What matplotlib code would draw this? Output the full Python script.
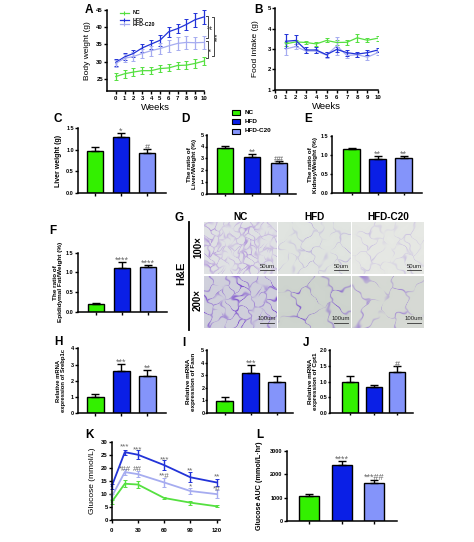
import numpy as np
import matplotlib
matplotlib.use("Agg")
import matplotlib.pyplot as plt

plt.rcParams['font.family'] = ['Liberation Sans', 'DejaVu Sans']
plt.rcParams['font.weight'] = 'bold'
W, H = 474, 542
GREEN, BLUE, LIGHT = '#33f000', '#0a1fe6', '#8494fa'
LINE_GREEN, LINE_BLUE, LINE_LIGHT = '#55e040', '#2233d8', '#a6acf0'
STAR = '#666666'

weeks = np.arange(0, 11)
a_nc = [25.7, 26.5, 27.0, 27.4, 27.4, 28.0, 28.2, 28.9, 29.0, 29.5, 30.2]
a_nc_e = [0.9, 1.1, 1.1, 1.1, 1.1, 1.1, 1.0, 1.0, 1.2, 1.2, 1.3]
a_hfd = [29.8, 31.4, 32.4, 34.0, 35.1, 36.2, 38.7, 39.6, 40.8, 42.2, 43.0]
a_hfd_e = [1.1, 1.0, 1.0, 1.1, 1.3, 1.5, 1.5, 1.4, 1.7, 2.0, 2.0]
a_c20 = [29.5, 31.0, 31.5, 32.4, 33.2, 33.8, 34.6, 35.3, 35.6, 35.5, 35.6]
a_c20_e = [1.0, 1.1, 1.2, 1.3, 1.5, 1.6, 1.8, 1.8, 1.8, 1.8, 1.8]

b_weeks = np.arange(1, 11)
b_nc = [3.25, 3.35, 3.32, 3.25, 3.42, 3.32, 3.33, 3.55, 3.43, 3.53]
b_nc_e = [0.1, 0.1, 0.08, 0.08, 0.1, 0.12, 0.12, 0.2, 0.1, 0.12]
b_hfd = [3.38, 3.42, 2.95, 2.95, 2.72, 2.98, 2.82, 2.75, 2.82, 2.95]
b_hfd_e = [0.35, 0.25, 0.15, 0.15, 0.12, 0.12, 0.15, 0.12, 0.12, 0.1]
b_c20 = [3.0, 3.12, 2.9, 2.9, 2.7, 3.15, 2.68, 2.72, 2.6, 2.82]
b_c20_e = [0.3, 0.12, 0.1, 0.1, 0.15, 0.45, 0.1, 0.1, 0.12, 0.1]

k_time = [0, 15, 30, 60, 90, 120]
k_nc = [7.0, 14.0, 13.7, 8.5, 6.7, 5.3]
k_nc_e = [0.8, 1.3, 1.3, 0.4, 0.8, 0.3]
k_hfd = [13.0, 26.2, 25.2, 21.2, 16.5, 14.5]
k_hfd_e = [1.0, 1.0, 1.7, 2.0, 2.0, 1.3]
k_c20 = [9.0, 18.5, 17.7, 14.5, 11.2, 10.0]
k_c20_e = [1.0, 1.0, 1.2, 1.8, 1.2, 1.4]

groups = ['NC', 'HFD', 'HFD-C20']
c_vals, c_errs = [0.97, 1.28, 0.93], [0.08, 0.10, 0.09]
d_vals, d_errs = [3.85, 3.15, 2.6], [0.2, 0.2, 0.15]
e_vals, e_errs = [1.16, 0.91, 0.92], [0.03, 0.07, 0.05]
f_vals, f_errs = [0.2, 1.11, 1.13], [0.03, 0.15, 0.05]
h_vals, h_errs = [1.0, 2.6, 2.32], [0.2, 0.42, 0.35]
i_vals, i_errs = [0.95, 3.2, 2.5], [0.3, 0.6, 0.4]
j_vals, j_errs = [1.0, 0.82, 1.32], [0.18, 0.08, 0.18]
l_vals, l_errs = [1070, 2390, 1650], [90, 170, 130]

fig = plt.figure(figsize=(W / 100, H / 100), dpi=100)
BG = fig.add_axes([0, 0, 1, 1])
BG.set_xlim(0, W)
BG.set_ylim(H, 0)
BG.axis('off')


def make_ax(left, right, top, bottom, tl=2.4, size=4.3, xpad=1.2):
    ax = fig.add_axes([left / W, 1 - bottom / H, (right - left) / W, (bottom - top) / H])
    ax.patch.set_alpha(0)
    for s in ('top', 'right'):
        ax.spines[s].set_visible(False)
    for s in ('left', 'bottom'):
        ax.spines[s].set_linewidth(1.1)
    ax.tick_params(axis='y', length=tl, width=1.0, labelsize=size, pad=0.5)
    ax.tick_params(axis='x', length=tl, width=1.0, labelsize=size, pad=xpad)
    return ax


def label(x, y, s):
    BG.text(x, y, s, fontsize=8.5, ha='left', va='center')


def barpanel(box, vals, errs, ylim, yticks, ylab, centers, w, stars, fs=4.6, labx=None, ticklabels=None, tl=2.4):
    left, right, top, bottom = box
    ax = make_ax(left, right, top, bottom, tl=tl, size=4.0)
    sp = centers[1] - centers[0]
    ax.set_xlim((left - centers[0]) / sp, (right - centers[0]) / sp)
    ax.set_ylim(*ylim)
    xs = np.arange(3)
    ax.bar(xs, vals, width=w / sp, color=[GREEN, BLUE, LIGHT], edgecolor='black', linewidth=1.0)
    ax.errorbar(xs, vals, yerr=[np.zeros(3), errs], fmt='none', ecolor='black', elinewidth=1.0, capsize=3.2, capthick=1.0)
    ax.set_xticks(xs)
    ax.set_xticklabels([])
    ax.set_yticks(yticks)
    if ticklabels:
        ax.set_yticklabels(ticklabels)
    ax.set_ylabel(ylab, fontsize=fs, labelpad=2, linespacing=1.1, fontweight='bold')
    if labx is not None:
        ax.yaxis.set_label_coords(labx, 0.5)
    for x, v, e, s in zip(xs, vals, errs, stars):
        if s:
            ax.annotate(s, (x, v + e), xytext=(0, 1.2), textcoords='offset points', fontsize=6.5, ha='center',
                        va='center', color=STAR, fontweight='normal', annotation_clip=False)
    return ax


# A
ax = make_ax(107, 204, 10, 91)
ax.set_xlim(-1, 10)
ax.set_ylim(21.5, 45)
for y, e, c in ((a_nc, a_nc_e, LINE_GREEN), (a_hfd, a_hfd_e, LINE_BLUE), (a_c20, a_c20_e, LINE_LIGHT)):
    ax.errorbar(weeks, y, yerr=e, color=c, lw=0.9, elinewidth=0.9, capsize=1.2, capthick=0.7, clip_on=False)
ax.set_xticks(weeks)
ax.set_yticks([25, 30, 35, 40, 45])
ax.set_xlabel('Weeks', fontsize=6.8, labelpad=1.5)
ax.set_ylabel('Body weight (g)', fontsize=6.0, labelpad=3.5)
for x0, y0, y1, s, xt, rot in ((10.42, 43.2, 36.9, '#', 10.85, 90), (10.42, 36.0, 31.2, '*', 10.85, 90),
                               (11.1, 43.0, 31.6, '***', 11.55, 90)):
    ax.plot([x0 - 0.2, x0, x0, x0 - 0.2], [y0, y0, y1, y1], color='#444444', lw=0.7, clip_on=False)
    ax.text(xt, (y0 + y1) / 2, s, rotation=rot, fontsize=5, ha='center', va='center', clip_on=False, color='#444444')
for yp, c, s in ((12.7, LINE_GREEN, 'NC'), (20, LINE_BLUE, 'HFD'), (24.3, LINE_LIGHT, 'HFD-C20')):
    BG.plot([120, 129], [yp, yp], color=c, lw=0.9)
    BG.plot([124.5], [yp], marker='|', ms=3, color=c, mew=0.8)
    BG.text(133, yp, s, fontsize=3.8, va='center', ha='left')
label(85, 10, 'A')

# B
ax = make_ax(275.3, 377.7, 8.3, 89.7)
ax.set_xlim(0, 10)
ax.set_ylim(1, 5)
for y, e, c in ((b_nc, b_nc_e, LINE_GREEN), (b_c20, b_c20_e, LINE_LIGHT), (b_hfd, b_hfd_e, LINE_BLUE)):
    ax.errorbar(b_weeks, y, yerr=e, color=c, lw=0.9, elinewidth=0.9, capsize=1.2, capthick=0.7)
ax.set_xticks(np.arange(0, 11))
ax.set_yticks([1, 2, 3, 4, 5])
ax.set_xlabel('Weeks', fontsize=6.8, labelpad=1.5)
ax.set_ylabel('Food intake (g)', fontsize=6.0, labelpad=6.5)
label(254, 10, 'B')

# Bar panels
one_five = ['0.0', '0.5', '1.0', '1.5']
barpanel((78, 166, 127.7, 193.3), c_vals, c_errs, (0, 1.5), [0, 0.5, 1.0, 1.5], 'Liver weight (g)', (95, 121, 147), 16,
         ['', '*', '#'], fs=5, labx=-0.18, ticklabels=one_five)
label(54, 119, 'C')
barpanel((207, 296, 134.7, 193.7), d_vals, d_errs, (0, 5), [0, 1, 2, 3, 4, 5], 'The ratio of\nLiver/Weight (%)',
         (225, 252, 278), 16.5, ['', '**', '##'], labx=-0.11, tl=1.6)
label(181, 119, 'D')
barpanel((331.7, 421.7, 136, 193.3), e_vals, e_errs, (0, 1.5), [0, 0.5, 1.0, 1.5], 'The ratio of\nKidney/Weight (%)',
         (351.7, 377.7, 403.7), 16.5, ['', '**', '**'], labx=-0.15, ticklabels=one_five, tl=1.6)
label(304, 119, 'E')
barpanel((77.7, 166.7, 252.7, 311.7), f_vals, f_errs, (0, 1.5), [0, 0.5, 1.0, 1.5],
         'The ratio of\nEpididymal Fat/Weight (%)', (96, 122, 148.7), 16.5, ['', '****', '****'], labx=-0.165,
         ticklabels=one_five)
label(49, 231, 'F')
barpanel((77.7, 165.7, 348.3, 413.3), h_vals, h_errs, (0, 4), [0, 1, 2, 3, 4], 'Relative mRNA\nexpression of Srebp1c',
         (95.3, 121.3, 147.7), 16.5, ['', '***', '**'], fs=4.2, labx=-0.13)
label(54, 342, 'H')
barpanel((207.3, 293.3, 350, 413), i_vals, i_errs, (0, 5), [0, 1, 2, 3, 4, 5], 'Relative mRNA\nexpression of Fasn',
         (224.7, 250.7, 276.3), 16.5, ['', '***', ''], labx=-0.13, tl=1.6)
label(182, 343, 'I')
barpanel((330, 413.3, 350.3, 413), j_vals, j_errs, (0, 2), [0, 0.5, 1.0, 1.5, 2.0], 'Relative mRNA\nexpression of Cpt1',
         (350, 373.7, 397.3), 16, ['', '', '#'], labx=-0.14, ticklabels=['0.0', '0.5', '1.0', '1.5', '2.0'], tl=1.3)
label(303, 343, 'J')
barpanel((286.7, 396.7, 451, 521.3), l_vals, l_errs, (0, 3000), [0, 1000, 2000, 3000], 'Glucose AUC (mmol/L·hr)',
         (309, 341.7, 374.7), 20, ['', '****', '***##'], fs=5.2, labx=-0.215)
label(256, 435, 'L')

# K
ax = make_ax(111.7, 220, 442.3, 520, xpad=3)
ax.set_xlim(0, 124)
ax.set_ylim(0, 30)
for y, e, c in ((k_nc, k_nc_e, LINE_GREEN), (k_c20, k_c20_e, LINE_LIGHT), (k_hfd, k_hfd_e, LINE_BLUE)):
    ax.errorbar(k_time, y, yerr=e, color=c, lw=1.3, elinewidth=1.0, capsize=1.3, capthick=0.7, clip_on=False)
ax.set_xticks([0, 30, 60, 90, 120])
ax.set_yticks([0, 5, 10, 15, 20, 25, 30])
ax.set_ylabel('Glucose (mmol/L)', fontsize=6.0, labelpad=3.5)
for x, y, s in ((15, 28.3, '***'), (30, 27.2, '***'), (60, 23.4, '***'), (90, 18.8, '**'), (120, 16.8, '**'),
                (15, 19.6, '*##'), (30, 19.6, '##'), (60, 16.9, '**#'), (90, 12.7, '*'), (120, 11.7, '*#')):
    ax.text(x, y, s, fontsize=5.8, ha='center', va='center', color=STAR, fontweight='normal', clip_on=False)
label(85, 435, 'K')

# central legend
for yp, c, s in ((112.7, GREEN, 'NC'), (121.7, BLUE, 'HFD'), (131, LIGHT, 'HFD-C20')):
    BG.add_patch(plt.Rectangle((232.5, yp - 2.5), 8, 5, fc=c, ec='black', lw=0.8))
    BG.text(245, yp, s, fontsize=4.6, va='center', ha='left')


# G: histology photographs, drawn as a soft cell-mesh texture
def mesh(n_x, n_y, px_w, px_h, bg, ink, strength, phase):
    gy, gx = np.mgrid[0:px_h, 0:px_w].astype(float)
    wx = gx + 2.2 * np.sin(gy / 4.3 + phase) + 1.2 * np.sin(gy / 1.9 + gx / 3.1)
    wy = gy + 2.2 * np.cos(gx / 3.7 + phase) + 1.2 * np.cos(gx / 2.3 - gy / 2.9)
    sx = (np.arange(n_x)[:, None] + 0.5) * np.ones((n_x, n_y))
    sy = (np.arange(n_y)[None, :] + 0.5) * np.ones((n_x, n_y))
    sx = (sx + 0.42 * np.sin(3.1 * sy + 1.7 * sx + phase)) * px_w / n_x
    sy = (sy + 0.42 * np.cos(2.3 * sx / 9 + 4.3 * sy + phase)) * px_h / n_y
    d = np.sqrt((wx[..., None] - sx.ravel()) ** 2 + (wy[..., None] - sy.ravel()) ** 2)
    d.sort(axis=2)
    e = np.exp(-((d[..., 1] - d[..., 0]) / 1.3) ** 2) * strength
    e *= 0.5 + 0.5 * np.sin(gx / 6.0 + phase) * np.cos(gy / 4.0 + 2 * phase) ** 2
    e = np.clip(e, 0, 1)[..., None]
    return (1 - e) * np.array(bg) + e * np.array(ink)


cols = [(204, 277), (278, 351), (352, 424)]
rows = [(222, 274), (276, 328)]
settings = [[(11, 8, (224, 226, 228), (165, 130, 215), 0.75), (5, 4, (224, 228, 224), (165, 145, 215), 0.55),
             (5, 4, (230, 232, 228), (175, 155, 220), 0.45)],
            [(7, 5, (208, 208, 220), (125, 80, 205), 1.0), (3, 3, (206, 212, 206), (125, 85, 205), 0.9),
             (3, 3, (214, 218, 212), (145, 110, 210), 0.7)]]
scales = ['50um', '100um']
for r, (t, b) in enumerate(rows):
    for c, (l, rr) in enumerate(cols):
        nx, ny, bg, ink, st = settings[r][c]
        img = mesh(nx, ny, rr - l, b - t, bg, ink, st, 0.7 + r * 1.3 + c * 2.1) / 255
        BG.imshow(img, extent=(l, rr, b, t), aspect='auto', interpolation='bilinear', zorder=1)
        ty, ly = (b - 8, b - 4) if r == 0 else (b - 9, b - 5)
        BG.text(rr - 10, ty, scales[r], fontsize=4.3, fontweight='normal', ha='center', va='center', zorder=3,
                color='#222222')
        BG.plot([rr - 17, rr - 3], [ly, ly], color='#333333', lw=0.6, zorder=3)
BG.set_xlim(0, W)
BG.set_ylim(H, 0)
for (l, rr), s in zip(cols, groups):
    BG.text((l + rr) / 2, 217, s, fontsize=7.2, ha='center', va='center')
BG.plot([189, 189], [222, 330], color='black', lw=1.3)
BG.text(181, 273, 'H&E', fontsize=8, rotation=90, ha='center', va='center')
BG.text(198, 247, '100×', fontsize=7, rotation=90, ha='center', va='center')
BG.text(198, 300, '200×', fontsize=7, rotation=90, ha='center', va='center')
label(175, 218, 'G')

fig.savefig('out.png', dpi=100)
